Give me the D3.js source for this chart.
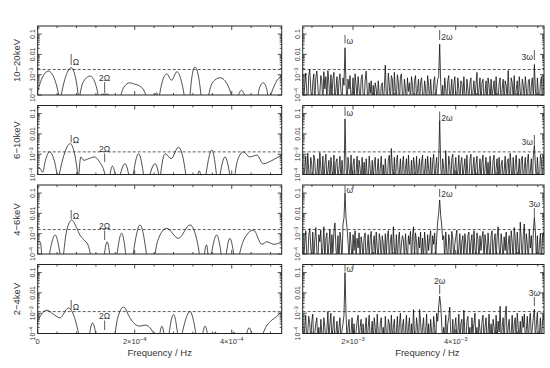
<!DOCTYPE html>
<head>
  <meta charset="utf-8">
  <script src="https://d3js.org/d3.v7.min.js"></script>
  <style>
    body { margin:0; background:#fff; }
    text { font-family: "Liberation Sans", Arial, sans-serif; fill:#333; }
    .frame { fill:none; stroke:#222; stroke-width:1; }
    .tk { stroke:#222; stroke-width:0.8; }
    .thresh { fill:none; stroke:#333; stroke-width:0.8; stroke-dasharray:3,2; }
    .lo { fill:none; stroke:#222; stroke-width:0.8; }
    .hi { fill:none; stroke:#111; stroke-width:0.8; }
    .mk { stroke:#333; stroke-width:0.8; }
  </style>
</head>
<body>
<script>
// energy bands, top to bottom
var bands = ["10\u221220keV", "6\u221210keV", "4\u22126keV", "2\u22124keV"];

// dashed detection level per band (power, units of 1e-4)
var thresh = [18, 13, 16, 12];

// low frequency periodograms: [freq (1e-4 Hz), power (1e-4)]; 0.5 marks a zero between lobes
var lo1 = [[0,1.6],[0.08,6],[0.22,15],[0.36,5],[0.46,0.5],[0.56,6],[0.69,22],[0.8,4],[0.85,0.5],
  [0.93,4],[1.08,8.6],[1.2,3],[1.27,0.5],[1.32,1.1],[1.45,1.1],[1.5,0.5],[1.68,0.5],[1.78,2.5],
  [1.9,4],[2.0,3.4],[2.1,2.8],[2.2,1.5],[2.26,0.5],[2.38,0.5],[2.45,1.3],[2.49,0.5],[2.55,3],
  [2.66,11],[2.76,5.3],[2.87,14],[2.97,4],[3.04,0.5],[3.13,0.5],[3.18,8],[3.24,24],[3.32,7],
  [3.38,0.5],[3.5,0.5],[3.6,4],[3.76,7.1],[3.92,3],[4.03,0.5],[4.1,0.5],[4.2,1.7],[4.3,0.5],
  [4.52,0.5],[4.58,2.5],[4.65,4],[4.72,2],[4.76,0.5],[4.85,2],[4.95,6],[5.03,8]];
var lo2 = [[0,2.3],[0.05,2],[0.1,1.3],[0.16,5],[0.24,13],[0.34,5],[0.42,0.5],[0.52,6],[0.67,33],
  [0.78,6],[0.84,0.5],[0.89,7.3],[0.95,5],[1.05,6],[1.17,7.3],[1.28,4],[1.35,2],[1.42,0.5],
  [1.47,0.5],[1.54,2.6],[1.62,0.5],[1.67,0.5],[1.8,3.4],[1.9,0.5],[1.95,0.5],[2.08,10.6],
  [2.2,0.5],[2.28,0.5],[2.42,3.4],[2.52,0.5],[2.56,3],[2.63,10.6],[2.75,6],[2.9,22],[3.0,6],
  [3.07,0.5],[3.28,0.5],[3.33,1.5],[3.38,0.5],[3.45,0.5],[3.59,16],[3.7,0.5],[3.74,0.5],
  [3.86,7.3],[3.98,0.5],[4.05,0.5],[4.12,5],[4.24,13],[4.37,7.3],[4.52,9],[4.65,3.4],[4.8,4.5],
  [4.96,7.3],[5.03,9]];
var lo3 = [[0,4],[0.05,4],[0.09,0.5],[0.22,0.5],[0.36,8.6],[0.48,0.5],[0.52,0.5],[0.6,15],[0.7,47],
  [0.8,20],[0.87,8.6],[0.95,5],[1.04,2.7],[1.11,0.5],[1.36,0.5],[1.43,4],[1.5,0.5],[1.62,0.5],
  [1.73,10.5],[1.83,0.5],[1.95,0.5],[2.11,27],[2.26,0.5],[2.4,0.5],[2.48,5],[2.66,18.5],[2.9,5.9],
  [3.14,27],[3.3,3],[3.35,0.5],[3.42,0.5],[3.48,2.8],[3.52,0.5],[3.56,0.5],[3.69,8.6],[3.8,0.5],
  [3.87,0.5],[3.96,5.9],[4.06,0.5],[4.13,0.5],[4.25,5],[4.45,15],[4.62,3],[4.72,4],[4.87,3],[5.03,4]];
var lo4 = [[0,4],[0.08,9],[0.19,14],[0.32,9],[0.46,5.9],[0.63,18],[0.76,6],[0.87,0.5],[1.05,0.5],
  [1.13,3.3],[1.22,0.5],[1.58,0.5],[1.65,6],[1.77,20],[1.9,6],[1.95,4],[2.1,2.3],[2.22,2.6],
  [2.35,1.5],[2.45,0.5],[2.5,0.5],[2.56,2.3],[2.62,0.5],[2.69,0.5],[2.8,8.6],[2.9,0.5],[2.95,0.5],
  [3.14,12],[3.28,0.5],[3.38,0.5],[3.45,2.3],[3.52,0.5],[3.62,0.5],[3.66,1.2],[3.7,0.5],[4.0,0.5],
  [4.04,1.2],[4.08,0.5],[4.28,0.5],[4.36,1.9],[4.44,0.5],[4.6,0.5],[4.7,2],[4.8,4],[4.93,7],[5.03,12]];

// high frequency periodograms: power (1e-4) per bin, bins start at hiF0 with step hiDF
var hiF0 = 1.02e-3, hiDF = 1.962e-5;
var hi1 = [
  6,0.4,3,12,1.5,0.3,9,18,2,0.5,4,11,0.3,7,15,3,0.4,1.2,9,5,
  0.3,14,2,8,0.5,16,4,0.3,10,1,6,13,0.4,2,8,0.3,5,11,1.5,0.4,
  7,3,213,4,0.3,6,2,9,0.5,1.2,7,0.3,11,3,0.6,8,2,0.3,6,10,
  1,0.4,5,15,2,0.3,4,1.2,5,0.4,3,0.8,4,2,0.3,5,1,0.4,3,4,
  0.3,2,30,1,0.5,12,3,0.4,9,6,0.3,13,1.5,0.6,10,4,0.3,8,11,1,
  0.4,6,2,0.3,7,1.5,4,0.5,8,3,0.3,5,9,0.6,2,6,0.3,4,7,1,
  0.4,5,2,0.3,9,3,0.5,6,1,0.3,4,8,0.5,2,6,8,316,4,0.5,3,
  0.3,7,2,0.5,5,9,0.4,1.5,6,0.3,3,8,1,0.5,7,2,0.3,5,4,0.6,
  8,1,0.3,6,2,0.5,4,7,0.3,1.5,5,0.6,3,13,0.4,2,7,0.3,4,6,
  0.5,1.2,5,0.3,7,3,0.4,6,0.8,2,5,0.3,8,1,0.5,4,7,0.3,2,6,
  0.4,5,3,0.5,16,1,0.3,7,4,0.6,9,0.3,2,5,0.4,8,1.5,0.3,6,3,
  0.5,8,2,0.3,5,6,0.4,3,7,0.6,32,2,0.3,7,1,0.5,4,8,0.3,5,
  8];
var hi2 = [
  4,0.5,2,8,0.3,11,1.5,0.4,7,3,0.3,9,5,0.5,1,6,0.3,12,2,0.4,
  8,0.3,3,10,0.6,1.5,5,0.3,7,2,0.4,9,0.3,4,6,0.5,2,8,0.3,5,
  1,0.4,550,3,0.3,7,2,0.5,9,0.4,3,6,0.3,1.2,8,0.4,5,2,0.3,7,
  0.5,4,0.3,6,1,0.4,8,2,0.3,5,0.6,3,7,0.3,1.5,6,0.4,2,8,0.5,
  3,0.3,6,1,0.4,5,9,0.3,19,2,0.5,7,0.3,4,9,0.6,1.2,6,0.3,3,
  8,0.4,2,6,0.3,9,1,0.5,5,0.3,7,3,0.4,8,0.6,2,6,0.3,4,9,
  0.4,1.5,6,0.3,8,2,0.5,7,0.3,4,10,0.6,2,7,0.3,5,460,3,0.4,6,
  2,0.3,15,1,0.5,8,3,0.3,6,10,0.4,2,7,0.5,1.5,9,0.3,4,7,0.6,
  2,6,0.3,9,1,0.4,5,10,0.3,2,7,0.5,3,8,0.3,1.2,6,0.4,4,9,
  0.3,2,7,0.5,4,0.3,8,1,0.6,5,9,0.3,2,6,0.4,7,0.3,3,5,0.5,
  1.5,8,0.3,4,6,0.5,11,2,0.3,7,0.4,3,9,0.6,1,6,0.3,5,8,0.4,
  2,7,0.3,4,10,0.5,1.5,6,0.3,9,27,3,0.4,7,1,0.3,9,5,0.4,7,
  10];
var hi3 = [
  10,0.5,3,14,1,0.4,8,18,2,0.6,12,0.4,5,20,1.5,0.3,9,4,15,0.5,
  2,22,0.4,6,11,0.5,3,16,0.4,9,1.2,12,34,2,0.5,8,0.3,12,4,0.4,
  30,60,1000,60,20,4,0.5,12,3,0.4,9,1.5,14,0.5,6,2,11,0.4,7,3,
  0.5,7,11,0.3,2,9,0.5,6,13,0.4,3,8,0.6,12,2,0.4,10,5,0.3,8,
  3,0.5,10,1,7,14,0.4,4,9,0.3,22,2,0.6,9,0.4,5,12,0.5,3,8,
  5,0.4,10,2,0.5,8,3,13,0.4,7,22,0.6,11,4,0.3,7,2,12,0.5,6,
  0.5,12,3,0.4,9,1.5,6,14,0.4,8,3,11,0.5,6,40,100,460,80,25,5,
  8,0.5,12,2,0.4,9,4,0.3,13,6,0.5,3,7,15,0.4,2,10,0.5,4,8,
  0.5,10,3,0.4,8,12,0.5,4,9,0.3,14,2,0.6,11,5,0.4,8,1.5,6,13,
  0.4,9,3,0.5,11,2,0.3,8,14,0.5,4,10,0.4,7,22,2,0.5,10,3,0.4,
  7,1.5,12,0.4,3,8,0.5,14,4,0.3,20,6,0.5,12,2,0.4,37,4,0.5,9,
  30,0.5,10,3,0.4,16,2,8,0.5,15,59,12,0.5,8,0.3,3,10,0.4,6,12,
  12];
var hi4 = [
  5,0.4,2,8,0.3,1.2,7,3,0.5,4,9,0.3,1,3,6,0.4,2,0.3,5,1,
  0.4,6,2,0.3,1.5,12,0.5,3,10,0.4,2,7,0.3,1,4,0.5,2,6,0.3,1.5,
  3,8,1000,10,0.4,2,5,0.3,1,6,0.5,3,0.3,1.2,4,8,0.4,2,5,0.3,
  3,0.4,1.5,6,0.3,2,8,0.5,1,4,0.3,6,2,0.4,9,1,0.3,3,6,0.5,
  2,0.3,7,1,0.4,5,3,0.3,8,0.6,2,5,0.3,1.2,7,0.4,3,10,0.5,2,
  5,0.3,1.5,8,0.4,2,6,0.3,3,0.5,15,1,0.4,6,2,0.3,15,4,0.5,2,
  6,0.3,1,9,0.5,3,0.3,5,1.2,0.4,7,2,0.3,10,4,20,69,25,3,0.4,
  2,0.5,8,0.3,3,6,20,1,0.4,5,0.3,2,6,0.5,1.2,9,0.3,3,5,0.4,
  14,1,0.3,4,7,0.5,2,0.3,6,1,3,10,0.4,2,0.3,5,1.5,0.4,4,8,
  0.3,2,6,0.5,1,9,0.3,3,0.4,5,2,0.3,8,0.5,4,1.2,22,0.4,2,6,
  0.3,7,22,0.5,2,5,0.3,1,8,0.4,3,6,0.3,10,2,0.5,4,0.3,7,2,
  9,0.5,1.5,7,0.3,4,10,0.5,2,6,16,0.4,3,11,0.5,1,6,0.3,4,6,
  9];

var loData = [lo1, lo2, lo3, lo4];
var hiData = [hi1, hi2, hi3, hi4];

// orbital (Omega) and spin (omega) frequencies, Hz
var OMEGA = 0.69e-4, omega = 1.844e-3;

// tick labels
var yTicks = [[1e-4, "10", "\u22124"], [1e-3, "10", "\u22123"], [1e-2, "0.01", ""], [1e-1, "0.1", ""]];
var loXLabels = [[0, "0", ""], [2e-4, "2\u00d710", "\u22124"], [4e-4, "4\u00d710", "\u22124"]];
var hiXLabels = [[2e-3, "2\u00d710", "\u22123"], [4e-3, "4\u00d710", "\u22123"]];

// annotation placement (pixel offsets from panel top)
var loMarks = [
  [{h:1, m:"r", y0:28, y1:39}, {h:2, m:"a", y0:56, y1:67}],
  [{h:1, m:"r", y0:29.5, y1:37}, {h:2, m:"a", y0:48, y1:56.5}],
  [{h:1, m:"r", y0:25, y1:34}, {h:2, m:"a", y0:45.5, y1:55}],
  [{h:1, m:"r", y0:35.5, y1:45}, {h:2, m:"a", y0:56, y1:65.5}]
];
var hiMarks = [
  [{h:1, m:"r", y0:9, y1:17.5}, {h:2, m:"r", y0:4, y1:14}, {h:3, m:"l", y0:24, y1:34}],
  [{h:1, m:"r", y0:1, y1:10.5}, {h:2, m:"r", y0:6, y1:15}, {h:3, m:"l", y0:29.5, y1:39.5}],
  [{h:1, m:"r", y0:0.5, y1:8}, {h:2, m:"r", y0:4, y1:12}, {h:3, m:"a", y0:23, y1:33}],
  [{h:1, m:"r", y0:0.5, y1:7}, {h:2, m:"a", y0:20.5, y1:29.5}, {h:3, m:"a", y0:32.5, y1:41.5}]
];

var W = 550, H = 368;
var ph = 69, top0 = 26, pstep = 79.5;
var loL = 37.7, loW = 244, hiL = 302.7, hiW = 241.3;

var svg = d3.select("body").append("svg")
  .attr("width", W).attr("height", H);

var xLo = d3.scaleLinear().domain([0, 5.03e-4]).range([0, loW]);
var xHi = d3.scaleLinear().domain([1.02e-3, 5.72e-3]).range([0, hiW]);
var y = d3.scaleLog().domain([1e-4, 0.25]).range([ph, 0]);

function supText(t, base, exp) {
  t.append("tspan").text(base);
  if (exp) t.append("tspan").attr("dy", "-0.45em").attr("font-size", "0.78em").text(exp);
}

// split a low-frequency series into lobes at its zeros
function lobes(data) {
  var segs = [], cur = [];
  data.forEach(function(d) {
    cur.push(d);
    if (d[1] <= 0.5 && cur.length > 1) { segs.push(cur); cur = [d]; }
  });
  if (cur.length > 1) segs.push(cur);
  return segs;
}

function panel(i, left, width, x, isLo) {
  var top = top0 + pstep * i;
  var g = svg.append("g").attr("transform", "translate(" + left + "," + top + ")");
  var cid = "clip" + (isLo ? "L" : "H") + i;
  svg.append("clipPath").attr("id", cid)
    .append("rect").attr("width", width).attr("height", ph);

  // y ticks both sides
  y.ticks().forEach(function(v) {
    var major = Math.abs(Math.log10(v) - Math.round(Math.log10(v))) < 1e-6;
    var len = major ? 4 : 2;
    g.append("line").attr("class", "tk").attr("x1", 0).attr("x2", len).attr("y1", y(v)).attr("y2", y(v));
    g.append("line").attr("class", "tk").attr("x1", width - len).attr("x2", width).attr("y1", y(v)).attr("y2", y(v));
  });

  // x ticks top and bottom
  var step = isLo ? 0.4e-4 : 0.4e-3, majorStep = isLo ? 2e-4 : 2e-3;
  var dom = x.domain();
  var start = Math.ceil(dom[0] / step - 1e-6) * step;
  d3.range(start, dom[1], step).forEach(function(v) {
    var r = v / majorStep;
    var len = Math.abs(r - Math.round(r)) < 1e-6 ? 4 : 2;
    g.append("line").attr("class", "tk").attr("x1", x(v)).attr("x2", x(v)).attr("y1", 0).attr("y2", len);
    g.append("line").attr("class", "tk").attr("x1", x(v)).attr("x2", x(v)).attr("y1", ph - len).attr("y2", ph);
  });

  // threshold
  g.append("line").attr("class", "thresh")
    .attr("x1", 0).attr("x2", width)
    .attr("y1", y(thresh[i] * 1e-4)).attr("y2", y(thresh[i] * 1e-4));

  // series
  var line;
  if (isLo) {
    line = d3.line()
      .x(function(d) { return x(d[0] * 1e-4); })
      .y(function(d) { return y(d[1] * 1e-4); })
      .curve(d3.curveMonotoneX);
    g.append("g").attr("clip-path", "url(#" + cid + ")")
      .selectAll("path").data(lobes(loData[i]))
      .enter().append("path").attr("class", "lo").attr("d", line);
  } else {
    line = d3.line()
      .x(function(d, j) { return x(hiF0 + j * hiDF); })
      .y(function(d) { return y(d * 1e-4); });
    g.append("path").datum(hiData[i]).attr("class", "hi")
      .attr("clip-path", "url(#" + cid + ")").attr("d", line);
  }

  // frame
  g.append("rect").attr("class", "frame").attr("width", width).attr("height", ph);

  // y tick labels (rotated)
  yTicks.forEach(function(t) {
    var tx = g.append("text")
      .attr("transform", "translate(-2.5," + y(t[0]) + ") rotate(-90)")
      .attr("text-anchor", "middle").attr("font-size", "7px");
    supText(tx, t[1], t[2]);
  });

  // harmonic markers
  var marks = isLo ? loMarks[i] : hiMarks[i];
  var f1 = isLo ? OMEGA : omega;
  var sym = isLo ? "\u03a9" : "\u03c9";
  marks.forEach(function(mk) {
    var mx = x(mk.h * f1);
    g.append("line").attr("class", "mk").attr("x1", mx).attr("x2", mx).attr("y1", mk.y0).attr("y2", mk.y1);
    var label = (mk.h > 1 ? mk.h : "") + sym;
    var t = g.append("text").attr("font-size", "8.5px").text(label);
    if (mk.m === "r") t.attr("x", mx + 1.5).attr("y", mk.y1);
    else if (mk.m === "l") t.attr("x", mx - 1.5).attr("y", mk.y1).attr("text-anchor", "end");
    else t.attr("x", mx).attr("y", mk.y0 - 1.5).attr("text-anchor", "middle");
  });

  return g;
}

bands.forEach(function(b, i) {
  panel(i, loL, loW, xLo, true);
  panel(i, hiL, hiW, xHi, false);
  var cy = top0 + pstep * i + ph / 2;
  svg.append("text")
    .attr("transform", "translate(20," + cy + ") rotate(-90)")
    .attr("text-anchor", "middle").attr("font-size", "9.5px")
    .text(b);
});

// bottom x tick labels
var by = top0 + pstep * 3 + ph + 10;
loXLabels.forEach(function(t) {
  var tx = svg.append("text").attr("x", loL + xLo(t[0])).attr("y", by)
    .attr("text-anchor", "middle").attr("font-size", "7.5px");
  supText(tx, t[1], t[2]);
});
hiXLabels.forEach(function(t) {
  var tx = svg.append("text").attr("x", hiL + xHi(t[0])).attr("y", by)
    .attr("text-anchor", "middle").attr("font-size", "7.5px");
  supText(tx, t[1], t[2]);
});

svg.append("text").attr("x", loL + loW / 2).attr("y", 356)
  .attr("text-anchor", "middle").attr("font-size", "9.5px").text("Frequency / Hz");
svg.append("text").attr("x", hiL + hiW / 2 + 4).attr("y", 356)
  .attr("text-anchor", "middle").attr("font-size", "9.5px").text("Frequency / Hz");
</script>
</body>
